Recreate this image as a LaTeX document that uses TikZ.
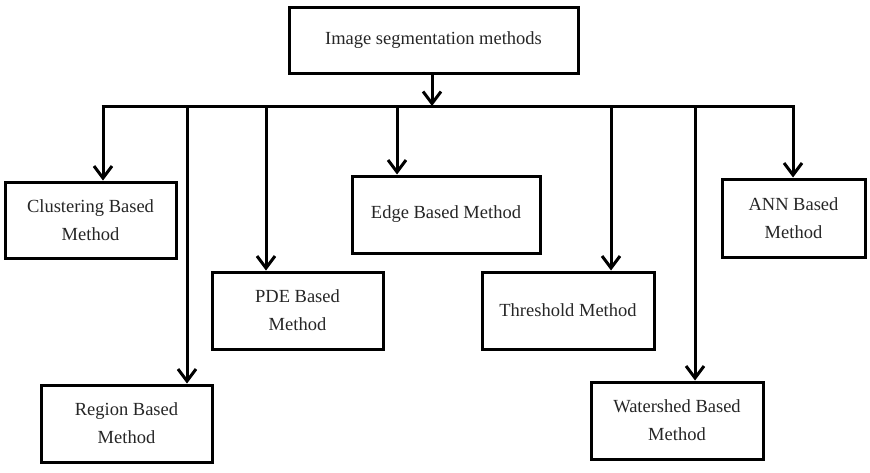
\documentclass[tikz,border=0pt]{standalone}
\usepackage{fontspec}
\setmainfont{Liberation Serif}
\usepackage{tikz}
\usetikzlibrary{arrows.meta}
\tikzstyle{box}=[rectangle,draw=black,line width=3pt,align=center,text=black!85,font=\fontsize{18.5}{28}\selectfont,inner sep=0pt]
\tikzstyle{arr}=[line width=3pt,-{Straight Barb[length=12pt,width=18pt]}]
\tikzstyle{bar}=[line width=3pt]

\begin{document}
\begin{tikzpicture}[x=1pt,y=-1pt]
\useasboundingbox (0,0) rectangle (870,472);
\node[box,minimum width=289pt,minimum height=66pt] (top) at (433.5,40) {\raisebox{-2pt}{Image segmentation methods}};
\node[box,minimum width=171pt,minimum height=76pt] (clust) at (90.5,220) {Clustering Based\\Method};
\node[box,minimum width=171pt,minimum height=77pt] (region) at (126.5,423.5) {Region Based\\Method};
\node[box,minimum width=171pt,minimum height=77pt] (pde) at (297.5,310.5) {PDE Based\\Method};
\node[box,minimum width=188pt,minimum height=77pt] (edge) at (446,214.5) {\raisebox{-2pt}{Edge Based Method}};
\node[box,minimum width=172pt,minimum height=77pt] (thresh) at (568,310.5) {Threshold Method};
\node[box,minimum width=172pt,minimum height=77pt] (water) at (677,420.5) {Watershed Based\\Method};
\node[box,minimum width=143pt,minimum height=78pt] (ann) at (793.5,218) {ANN Based\\Method};
% branch points on the bar
\coordinate (bl) at (101.5,106); \coordinate (br) at (794.5,106);
\coordinate (bt) at (432,106);
\coordinate (b1) at (103,106); \coordinate (b2) at (187,106); \coordinate (b3) at (266,106);
\coordinate (b4) at (397,106); \coordinate (b5) at (611,106); \coordinate (b6) at (695,106);
\coordinate (b7) at (793,106);
\draw[bar] (bl) -- (br);
\draw[arr] (bt |- top.south) -- (bt);
\draw[arr] (b1) -- (b1 |- clust.north);
\draw[arr] (b2) -- (b2 |- region.north);
\draw[arr] (b3) -- (b3 |- pde.north);
\draw[arr] (b4) -- (b4 |- edge.north);
\draw[arr] (b5) -- (b5 |- thresh.north);
\draw[arr] (b6) -- (b6 |- water.north);
\draw[arr] (b7) -- (b7 |- ann.north);
\end{tikzpicture}
\end{document}
